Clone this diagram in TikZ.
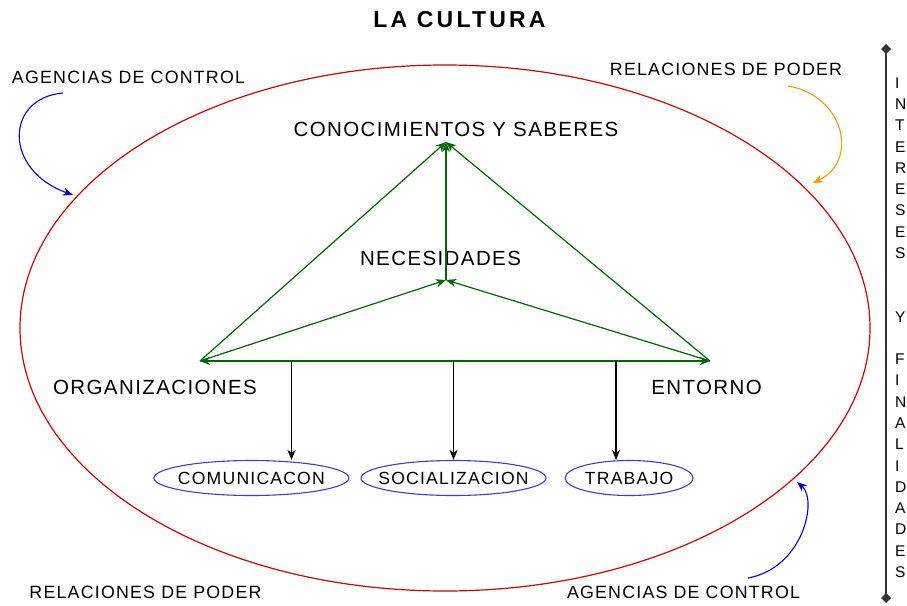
\documentclass[tikz,border=0pt]{standalone}
\usepackage{fontspec}
\setmainfont{Liberation Sans}[LetterSpace=6.8]
\newfontfamily\headfont{Liberation Sans}[LetterSpace=14]
\usetikzlibrary{positioning,arrows.meta,shapes.geometric}
\definecolor{leafgreen}{RGB}{0,102,0}
\definecolor{rimred}{RGB}{214,0,0}
\definecolor{ovalblue}{RGB}{60,60,210}
\definecolor{ctrlblue}{RGB}{0,0,204}
\definecolor{amber}{RGB}{255,153,0}
\tikzset{
  >={Stealth[length=10pt,width=8pt,inset=3pt]},
  line width = 1pt,
  heading/.style={
    font      = \headfont\bfseries\fontsize{23}{26}\selectfont,
    inner sep = 0pt},
  big/.style={
    font      = \fontsize{20.5}{24}\selectfont,
    inner sep = 0pt},
  tag/.style={
    font      = \fontsize{17.8}{20}\selectfont,
    inner sep = 0pt},
  letter/.style={
    font      = \fontsize{15.5}{18}\selectfont,
    inner sep = 0pt,
    anchor    = west},
  oval/.style={
    ellipse,
    draw           = ovalblue,
    line width     = 1.1pt,
    font           = \fontsize{17.6}{20}\selectfont,
    inner xsep     = -12pt,
    inner ysep     = 0pt,
    minimum height = 35pt},
  link/.style={
    ->,
    draw       = leafgreen,
    line width = 1.2pt},
  drop/.style={->, line width = 1.2pt},
  swing/.style={
    ->,
    >={Stealth[length=10pt,width=8pt,inset=3pt]},
    line width = 1.1pt},
  sidebar/.style={
    {Diamond[length=10pt,width=10pt]}-{Diamond[length=10pt,width=10pt]},
    draw       = black!80,
    line width = 1.2pt}
}

\begin{document}
\begin{tikzpicture}[x=1pt, y=-1pt]
\useasboundingbox (0,0) rectangle (907,605);

\node[heading] (title) at (459.5,20) {LA CULTURA};

\node[ellipse, draw=rimred, line width=1.2pt,
      minimum width=850pt, minimum height=526pt] (culture) at (445,328) {};

\node[big] (know)  at (456,129)   {CONOCIMIENTOS Y SABERES};
\node[big] (needs) at (440.5,258) {NECESIDADES};
\node[big] (orgs)  at (155,387)   {ORGANIZACIONES};
\node[big] (env)   at (706.5,387) {ENTORNO};

\node[tag] (ctrltop)  at (128.5,77) {AGENCIAS DE CONTROL};
\node[tag] (powertop) at (726,69)   {RELACIONES DE PODER};
\node[tag] (powerbot) at (145.5,592) {RELACIONES DE PODER};
\node[tag] (ctrlbot)  at (683.5,592) {AGENCIAS DE CONTROL};

\coordinate (apex)    at (446,142);
\coordinate (hub)     at (446,280);
\coordinate (wcorner) at (200,361);
\coordinate (ecorner) at (710,361);

\draw[link, <->] (wcorner) -- (ecorner);
\draw[link] (wcorner) -- (apex);
\draw[link] (ecorner) -- (apex);
\draw[link] (wcorner) -- (hub);
\draw[link] (ecorner) -- (hub);
\draw[link] (hub) -- (apex);

\node[oval, minimum width=185pt] (social) at (453.5,478) {SOCIALIZACION};
\node[oval, minimum width=195pt, left  = 11pt of social] (comm) {COMUNICACON};
\node[oval, minimum width=128pt, right = 18pt of social] (work) {TRABAJO};

\coordinate (d1) at (291.5,361);
\coordinate (d2) at (453.5,361);
\coordinate (d3) at (616,361);

\draw[drop] (d1) -- (d1 |- comm.north);
\draw[drop] (d2) -- (d2 |- social.north);
\draw[drop] (d3) -- (d3 |- work.north);

\coordinate (s1) at (63,93);
\coordinate (e1) at (73,195);
\coordinate (s2) at (788,86);
\coordinate (e2) at (813,183);
\coordinate (s3) at (748,578);
\coordinate (e3) at (797,482);

\draw[swing, draw=ctrlblue] (s1) .. controls +(-58,5) and +(-70,-25) .. (e1);
\draw[swing, draw=amber]    (s2) .. controls +(55,9) and +(47,-23) .. (e2);
\draw[swing, draw=ctrlblue] (s3) .. controls +(55,-10) and +(21,18) .. (e3);

\coordinate (bartop) at (886,44);
\coordinate (barbot) at (886,603);
\draw[sidebar] (bartop) -- (barbot);

\foreach \l/\k in {I/0,N/1,T/2,E/3,R/4,E/5,S/6,E/7,S/8,Y/11,
                   F/13,I/14,N/15,A/16,L/17,I/18,D/19,A/20,D/21,E/22,S/23}
  \node[letter] (v\k) at (895,{83+21.26*\k}) {\l};

\end{tikzpicture}
\end{document}
